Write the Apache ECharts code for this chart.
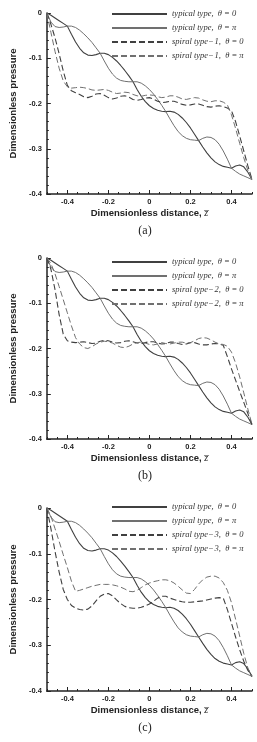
<!DOCTYPE html>
<html>
<head>
<meta charset="utf-8">
<script src="https://cdn.jsdelivr.net/npm/echarts@6/dist/echarts.min.js"></script>
<style>
  html, body { margin: 0; padding: 0; background: #fff; }
  #chart { width: 257px; height: 742px; }
</style>
</head>
<body>
<div id="chart"></div>
<script>
// axial position, -0.5 .. 0.5 step 0.02
const zValues = [
  -0.5, -0.48, -0.46, -0.44, -0.42, -0.4, -0.38, -0.36, -0.34, -0.32, -0.3,
  -0.28, -0.26, -0.24, -0.22, -0.2, -0.18, -0.16, -0.14, -0.12, -0.1,
  -0.08, -0.06, -0.04, -0.02, 0, 0.02, 0.04, 0.06, 0.08, 0.1,
  0.12, 0.14, 0.16, 0.18, 0.2, 0.22, 0.24, 0.26, 0.28, 0.3,
  0.32, 0.34, 0.36, 0.38, 0.4, 0.42, 0.44, 0.46, 0.48, 0.5
];

// typical type (same in all three panels)
const typicalTheta0 = [
  0, -0.005, -0.011, -0.017, -0.023, -0.029,
  -0.047, -0.064, -0.078, -0.088, -0.093, -0.094, -0.092, -0.089,
  -0.089, -0.092, -0.098, -0.106, -0.116, -0.127, -0.139, -0.152,
  -0.169, -0.184, -0.196, -0.205, -0.211, -0.215, -0.217, -0.218,
  -0.217, -0.219, -0.224, -0.232, -0.242, -0.254, -0.268, -0.282,
  -0.296, -0.309, -0.320, -0.329, -0.335, -0.339, -0.341, -0.343,
  -0.338, -0.336, -0.340, -0.352, -0.368
];
const typicalThetaPi = [
  0, -0.020, -0.030, -0.032, -0.031, -0.029,
  -0.029, -0.032, -0.038, -0.046, -0.055, -0.065, -0.077, -0.089,
  -0.106, -0.122, -0.135, -0.144, -0.149, -0.151, -0.152, -0.152,
  -0.152, -0.155, -0.161, -0.169, -0.179, -0.191, -0.204, -0.218,
  -0.234, -0.249, -0.262, -0.271, -0.277, -0.280, -0.281, -0.282,
  -0.277, -0.274, -0.275, -0.280, -0.290, -0.305, -0.323, -0.343,
  -0.350, -0.356, -0.360, -0.364, -0.368
];

// spiral type-1
const spiral1Theta0 = [
  0, -0.025, -0.055, -0.090, -0.128, -0.160, -0.172, -0.176, -0.180, -0.185, -0.187,
  -0.184, -0.179, -0.178, -0.182, -0.187, -0.190, -0.188, -0.184, -0.183, -0.186,
  -0.191, -0.193, -0.191, -0.188, -0.187, -0.190, -0.195, -0.198, -0.197, -0.195,
  -0.195, -0.198, -0.202, -0.204, -0.203, -0.201, -0.201, -0.204, -0.207, -0.208,
  -0.206, -0.205, -0.207, -0.210, -0.216, -0.240, -0.272, -0.305, -0.338, -0.368
];
const spiral1ThetaPi = [
  0, -0.043, -0.085, -0.122, -0.150, -0.163, -0.166, -0.165, -0.164, -0.165, -0.167,
  -0.170, -0.171, -0.170, -0.169, -0.171, -0.175, -0.178, -0.177, -0.175, -0.176,
  -0.180, -0.183, -0.184, -0.182, -0.181, -0.182, -0.185, -0.187, -0.186, -0.183,
  -0.183, -0.186, -0.190, -0.191, -0.189, -0.187, -0.188, -0.192, -0.195, -0.196,
  -0.194, -0.194, -0.197, -0.203, -0.225, -0.255, -0.288, -0.320, -0.348, -0.368
];

// spiral type-2
const spiral2Theta0 = [
  0, -0.025, -0.070, -0.125, -0.168, -0.183, -0.186, -0.187, -0.186, -0.185, -0.187,
  -0.189, -0.188, -0.184, -0.182, -0.183, -0.186, -0.188, -0.187, -0.184, -0.183,
  -0.185, -0.188, -0.189, -0.187, -0.185, -0.185, -0.188, -0.190, -0.189, -0.186,
  -0.186, -0.189, -0.191, -0.190, -0.187, -0.187, -0.190, -0.192, -0.192, -0.190,
  -0.189, -0.190, -0.193, -0.218, -0.245, -0.270, -0.295, -0.319, -0.344, -0.368
];
const spiral2ThetaPi = [
  0, -0.012, -0.035, -0.063, -0.092, -0.121, -0.150, -0.176, -0.190, -0.198, -0.200,
  -0.196, -0.190, -0.186, -0.184, -0.185, -0.188, -0.193, -0.197, -0.198, -0.195,
  -0.190, -0.187, -0.186, -0.188, -0.191, -0.192, -0.190, -0.187, -0.189, -0.190,
  -0.188, -0.186, -0.186, -0.188, -0.187, -0.183, -0.178, -0.176, -0.177, -0.181,
  -0.186, -0.190, -0.191, -0.195, -0.208, -0.232, -0.263, -0.298, -0.334, -0.368
];

// spiral type-3
const spiral3Theta0 = [
  0, -0.045, -0.095, -0.140, -0.178, -0.200, -0.213, -0.219, -0.222, -0.223, -0.221,
  -0.214, -0.203, -0.193, -0.188, -0.187, -0.192, -0.201, -0.209, -0.215, -0.218,
  -0.219, -0.219, -0.217, -0.214, -0.210, -0.204, -0.197, -0.193, -0.193, -0.197,
  -0.200, -0.203, -0.205, -0.206, -0.206, -0.205, -0.204, -0.203, -0.201, -0.199,
  -0.197, -0.196, -0.197, -0.222, -0.252, -0.282, -0.310, -0.335, -0.355, -0.368
];
const spiral3ThetaPi = [
  0, -0.018, -0.045, -0.073, -0.102, -0.130, -0.160, -0.182, -0.180, -0.177, -0.174,
  -0.171, -0.169, -0.167, -0.167, -0.167, -0.168, -0.170, -0.173, -0.177, -0.182,
  -0.183, -0.180, -0.174, -0.168, -0.164, -0.161, -0.159, -0.157, -0.157, -0.159,
  -0.164, -0.171, -0.179, -0.186, -0.187, -0.178, -0.166, -0.157, -0.151, -0.149,
  -0.149, -0.153, -0.163, -0.180, -0.207, -0.243, -0.280, -0.318, -0.350, -0.368
];

const xLabelValues = [-0.4, -0.2, 0, 0.2, 0.4];
const panelCaptions = ['(a)', '(b)', '(c)'];
const spiralNames = ['spiral type\u2212\u200a1', 'spiral type\u2212\u200a2', 'spiral type\u2212\u200a3'];

const spiralData = [
  [spiral1Theta0, spiral1ThetaPi],
  [spiral2Theta0, spiral2ThetaPi],
  [spiral3Theta0, spiral3ThetaPi]
];

// layout of the three panels
const gridTops = [13, 258, 508];
const gridHeights = [181, 181, 183];
const legendTops = [9, 257, 502];

const darkColor = '#404040';
const lightColor = '#707070';
const sans = 'Liberation Sans, Arial, sans-serif';
const serif = 'Liberation Serif, Times New Roman, serif';

function pairs(ys) {
  return zValues.map(function (z, i) { return [z, ys[i]]; });
}

const typ0 = 'typical type,  \u03b8 = 0';
const typPi = 'typical type,  \u03b8 = \u03c0';

const grid = [], xAxis = [], yAxis = [], series = [], legend = [], graphic = [];

for (let p = 0; p < 3; p++) {
  grid.push({ left: 39, right: 5, top: gridTops[p], height: gridHeights[p] });

  // main x axis (carries the data, small ticks every 0.05)
  xAxis.push({
    type: 'value', gridIndex: p, position: 'bottom',
    min: -0.5, max: 0.5, interval: 0.05,
    axisLine: { onZero: false, lineStyle: { color: '#222', width: 1.5 } },
    axisTick: { inside: true, length: 2, lineStyle: { color: '#222' } },
    axisLabel: {
      customValues: xLabelValues, margin: 4,
      fontFamily: sans, fontWeight: 'bold', fontSize: 7.5, color: '#222'
    },
    splitLine: { show: false },
    name: '{a|Dimensionless distance, }{z|z\u0305}',
    nameLocation: 'middle', nameGap: 14,
    nameTextStyle: {
      rich: {
        a: { fontFamily: sans, fontWeight: 'bold', fontSize: 9.5, color: '#222' },
        z: { fontFamily: serif, fontStyle: 'italic', fontSize: 10, color: '#222' }
      }
    }
  });
  // major ticks only
  xAxis.push({
    type: 'value', gridIndex: p, position: 'bottom',
    min: -0.5, max: 0.5, interval: 0.05,
    axisLine: { show: false, onZero: false },
    axisTick: { inside: true, length: 4, customValues: xLabelValues, lineStyle: { color: '#222' } },
    axisLabel: { show: false },
    splitLine: { show: false }
  });

  yAxis.push({
    type: 'value', gridIndex: p,
    min: -0.4, max: 0, interval: 0.1,
    axisLine: { show: true, onZero: false, lineStyle: { color: '#222', width: 1.5 } },
    axisTick: { show: true, inside: true, length: 4, lineStyle: { color: '#222' } },
    minorTick: { show: true, splitNumber: 5, length: 2, lineStyle: { color: '#222' } },
    axisLabel: { margin: 5, fontFamily: sans, fontWeight: 'bold', fontSize: 7.5, color: '#222' },
    splitLine: { show: false },
    name: 'Dimensionless pressure',
    nameLocation: 'middle', nameGap: 27,
    nameTextStyle: { fontFamily: sans, fontWeight: 'bold', fontSize: 9.5, color: '#222' }
  });

  const sp0 = spiralNames[p] + ',  \u03b8 = 0';
  const spPi = spiralNames[p] + ',  \u03b8 = \u03c0';
  const lines = [
    { name: typ0, data: typicalTheta0, color: darkColor, width: 1.1, type: 'solid' },
    { name: typPi, data: typicalThetaPi, color: lightColor, width: 1, type: 'solid' },
    { name: sp0, data: spiralData[p][0], color: darkColor, width: 1.1, type: [6, 3] },
    { name: spPi, data: spiralData[p][1], color: lightColor, width: 1, type: [6, 3] }
  ];
  lines.forEach(function (l) {
    series.push({
      type: 'line', name: l.name, xAxisIndex: p * 2, yAxisIndex: p,
      data: pairs(l.data), showSymbol: false, symbol: 'none', silent: true,
      lineStyle: { color: l.color, width: l.width, type: l.type },
      itemStyle: { color: l.color },
      animation: false
    });
  });

  legend.push({
    data: [typ0, typPi, sp0, spPi],
    orient: 'vertical', left: 111, top: legendTops[p], padding: 0,
    itemWidth: 55, itemHeight: 8, itemGap: 4,
    selectedMode: false,
    itemStyle: { color: 'rgba(0,0,0,0)', borderColor: 'rgba(0,0,0,0)', borderWidth: 0, opacity: 0 },
    textStyle: { fontFamily: serif, fontStyle: 'italic', fontSize: 8.5, color: '#333', lineHeight: 10 }
  });

  graphic.push({
    type: 'text', x: 145, y: gridTops[p] + gridHeights[p] + 37,
    style: {
      text: panelCaptions[p], align: 'center', verticalAlign: 'middle',
      font: '12px ' + serif, fill: '#222'
    }
  });
}

const chart = echarts.init(document.getElementById('chart'));
chart.setOption({
  animation: false,
  backgroundColor: '#fff',
  grid: grid,
  xAxis: xAxis,
  yAxis: yAxis,
  legend: legend,
  graphic: graphic,
  series: series
});
</script>
</body>
</html>
